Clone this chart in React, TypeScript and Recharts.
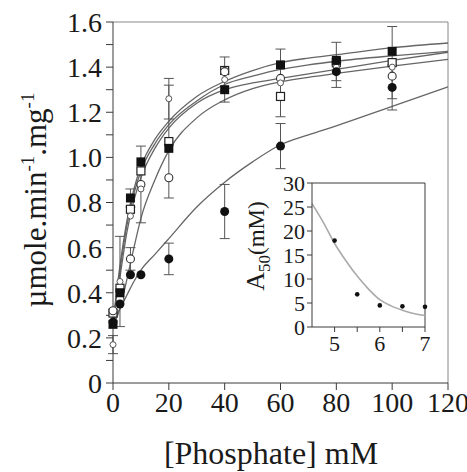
import {
  ComposedChart, Line, Scatter, XAxis, YAxis, ErrorBar, ReferenceLine,
} from 'recharts'

// phosphate concentrations (mM) of the measured points
const CONC = [0, 2.5, 6.25, 10, 20, 40, 60, 80, 100]

// activity, µmole.min-1.mg-1, one list per pH series
const FILLED_SQ = [0.26, 0.40, 0.82, 0.98, 1.04, 1.30, 1.41, 1.43, 1.47]
const FILLED_SQ_ERR = [0, 0, 0.04, 0, 0, 0, 0, 0, 0]
const OPEN_SQ = [0.31, 0.42, 0.77, 0.94, 1.07, 1.385, 1.27, 1.42, 1.42]
const OPEN_SQ_ERR = [0, 0, 0, 0, 0.25, 0, 0, 0, 0.16]
const OPEN_CIRC = [0.32, 0.37, 0.55, 0.88, 0.91, 1.38, 1.35, 1.41, 1.36]
const OPEN_CIRC_ERR = [0, 0, 0.05, 0.17, 0, 0, 0, 0.1, 0]
const SMALL_CIRC = [0.17, 0.45, 0.74, 0.86, 1.26, 1.345, 1.33, 1.40, 1.40]
const SMALL_CIRC_ERR = [0.04, 0.2, 0, 0, 0.09, 0.1, 0.15, 0, 0]
const FILLED_CIRC = [0.27, 0.35, 0.48, 0.48, 0.55, 0.76, 1.05, 1.38, 1.31]
const FILLED_CIRC_ERR = [0, 0, 0, 0, 0.07, 0.12, 0.1, 0.04, 0.1]

// fitted curves
const FIT_X = [0, 2.5, 5, 7.5, 10, 15, 20, 30, 40, 50, 60, 70, 80, 100, 120]
const FIT_1 = [0.27, 0.52, 0.72, 0.86, 0.96, 1.08, 1.16, 1.27, 1.337, 1.385, 1.42, 1.44, 1.455, 1.486, 1.507]
const FIT_2 = [0.27, 0.50, 0.70, 0.84, 0.94, 1.06, 1.145, 1.25, 1.323, 1.36, 1.39, 1.41, 1.426, 1.45, 1.47]
const FIT_3 = [0.26, 0.47, 0.67, 0.81, 0.91, 1.04, 1.13, 1.24, 1.30, 1.33, 1.35, 1.37, 1.39, 1.43, 1.466]
const FIT_4 = [0.25, 0.33, 0.46, 0.60, 0.73, 0.90, 1.03, 1.175, 1.255, 1.305, 1.335, 1.355, 1.372, 1.404, 1.434]
const FIT_5 = [0.27, 0.33, 0.39, 0.45, 0.50, 0.57, 0.64, 0.78, 0.89, 0.98, 1.056, 1.10, 1.14, 1.226, 1.312]

const X_TICKS = [0, 20, 40, 60, 80, 100, 120]
const Y_TICKS = [0, 0.1, 0.2, 0.3, 0.4, 0.5, 0.6, 0.7, 0.8, 0.9, 1.0, 1.1, 1.2, 1.3, 1.4, 1.5, 1.6]

// inset: A50 vs pH
const PH = [5, 5.5, 6, 6.5, 7]
const A50 = [18, 6.8, 4.5, 4.3, 4.2]
const A50_FIT_X = [4.5, 4.75, 5, 5.25, 5.5, 5.75, 6, 6.25, 6.5, 6.75, 7]
const A50_FIT_Y = [25.7, 21.8, 17.4, 13.8, 10.6, 7.9, 5.7, 4.4, 3.5, 2.8, 2.4]
const INSET_X_TICKS = [5, 5.5, 6, 6.5, 7]
const INSET_Y_TICKS = [0, 5, 10, 15, 20, 25, 30]

const FONT = "'Liberation Serif', 'Times New Roman', serif"
const AXIS = '#3a3a3a'
const FRAME = '#888'
const CURVE = '#666'

const pts = (ys: number[], errs: number[]) => CONC.map((x, i) => ({ x, y: ys[i], err: errs[i] }))
const fit = (xs: number[], ys: number[]) => xs.map((x, i) => ({ x, y: ys[i] }))

const FilledSquare = (p: any) => <rect x={p.cx - 4.5} y={p.cy - 4.5} width={9} height={9} fill="#111" />
const OpenSquare = (p: any) => <rect x={p.cx - 4} y={p.cy - 4} width={8} height={8} fill="#fff" stroke="#222" strokeWidth={1.2} />
const OpenCircle = (p: any) => <circle cx={p.cx} cy={p.cy} r={4} fill="#fff" stroke="#333" strokeWidth={1.1} />
const SmallCircle = (p: any) => <circle cx={p.cx} cy={p.cy} r={3} fill="#fff" stroke="#555" strokeWidth={1} />
const FilledCircle = (p: any) => <circle cx={p.cx} cy={p.cy} r={4.5} fill="#111" />
const Dot = (p: any) => <circle cx={p.cx} cy={p.cy} r={2.3} fill="#111" />

const yLabel = () => (
  <text transform="translate(46,200) rotate(-90)" textAnchor="middle" fontFamily={FONT} fontSize={31} fill="#1a1a1a">
    µmole.min<tspan dy={-12} fontSize={19}>-1</tspan><tspan dy={12}>.mg</tspan><tspan dy={-12} fontSize={19}>-1</tspan>
  </text>
)

const xLabel = () => (
  <text x={271} y={464} textAnchor="middle" fontFamily={FONT} fontSize={32} fill="#1a1a1a">[Phosphate] mM</text>
)

const insetLabel = () => (
  <text transform="translate(24,76) rotate(-90)" textAnchor="middle" fontFamily={FONT} fontSize={26} fill="#1a1a1a">
    A<tspan dy={6} fontSize={17}>50</tspan><tspan dy={-6} fontSize={23}>(mM)</tspan>
  </text>
)

const errBar = <ErrorBar dataKey="err" direction="y" width={5} stroke="#555" strokeWidth={1} />

export default function App() {
  const tick = { fontFamily: FONT, fontSize: 28, fill: '#1a1a1a' }
  const insetTick = { fontFamily: FONT, fontSize: 22, fill: '#1a1a1a' }
  const curves = [FIT_1, FIT_2, FIT_3, FIT_4, FIT_5]

  return (
    <div style={{ position: 'absolute', left: 0, top: 0, width: 467, height: 472, background: '#fff' }}>
      <ComposedChart width={467} height={472} margin={{ top: 22, right: 19, left: 0, bottom: 0 }}>
        <XAxis
          type="number" dataKey="x" domain={[0, 120]} ticks={X_TICKS} interval={0}
          height={89} tick={tick} tickSize={7} tickMargin={2}
          axisLine={{ stroke: AXIS }} tickLine={{ stroke: AXIS }}
          label={xLabel}
        />
        <YAxis
          type="number" dataKey="y" domain={[0, 1.6]} ticks={Y_TICKS} interval={0}
          width={113} tick={tick} tickSize={7} tickMargin={4}
          tickFormatter={v => (Math.round(v * 10) % 2 ? '' : v === 0 ? '0' : v.toFixed(1))}
          axisLine={{ stroke: AXIS }} tickLine={{ stroke: AXIS }}
          label={yLabel}
        />
        <ReferenceLine y={1.6} stroke={FRAME} />
        <ReferenceLine x={120} stroke={FRAME} />
        {curves.map((c, i) => (
          <Line
            key={i} data={fit(FIT_X, c)} dataKey="y" type="monotone"
            stroke={CURVE} strokeWidth={1.3} dot={false} isAnimationActive={false}
          />
        ))}
        <Scatter data={pts(OPEN_SQ, OPEN_SQ_ERR)} shape={OpenSquare} isAnimationActive={false}>{errBar}</Scatter>
        <Scatter data={pts(OPEN_CIRC, OPEN_CIRC_ERR)} shape={OpenCircle} isAnimationActive={false}>{errBar}</Scatter>
        <Scatter data={pts(SMALL_CIRC, SMALL_CIRC_ERR)} shape={SmallCircle} isAnimationActive={false}>{errBar}</Scatter>
        <Scatter data={pts(FILLED_CIRC, FILLED_CIRC_ERR)} shape={FilledCircle} isAnimationActive={false}>{errBar}</Scatter>
        <Scatter data={pts(FILLED_SQ, FILLED_SQ_ERR)} shape={FilledSquare} isAnimationActive={false}>{errBar}</Scatter>
      </ComposedChart>

      <div style={{ position: 'absolute', left: 240, top: 170, width: 190, height: 200 }}>
        <ComposedChart width={190} height={200} margin={{ top: 13, right: 5, left: 0, bottom: 0 }}>
          <XAxis
            type="number" dataKey="x" domain={[4.5, 7]} ticks={INSET_X_TICKS} interval={0}
            height={43} tick={insetTick} tickSize={5} tickMargin={3}
            tickFormatter={v => (Number.isInteger(v) ? String(v) : '')}
            axisLine={{ stroke: AXIS }} tickLine={{ stroke: AXIS }}
          />
          <YAxis
            type="number" dataKey="y" domain={[0, 30]} ticks={INSET_Y_TICKS} interval={0}
            width={72} tick={insetTick} tickSize={5} tickMargin={2}
            axisLine={{ stroke: AXIS }} tickLine={{ stroke: AXIS }}
            label={insetLabel}
          />
          <ReferenceLine y={30} stroke={AXIS} />
          <ReferenceLine x={7} stroke={AXIS} />
          <Line
            data={fit(A50_FIT_X, A50_FIT_Y)} dataKey="y" type="monotone"
            stroke="#aaa" strokeWidth={1.6} dot={false} isAnimationActive={false}
          />
          <Scatter data={fit(PH, A50)} shape={Dot} isAnimationActive={false} />
        </ComposedChart>
      </div>
    </div>
  )
}
